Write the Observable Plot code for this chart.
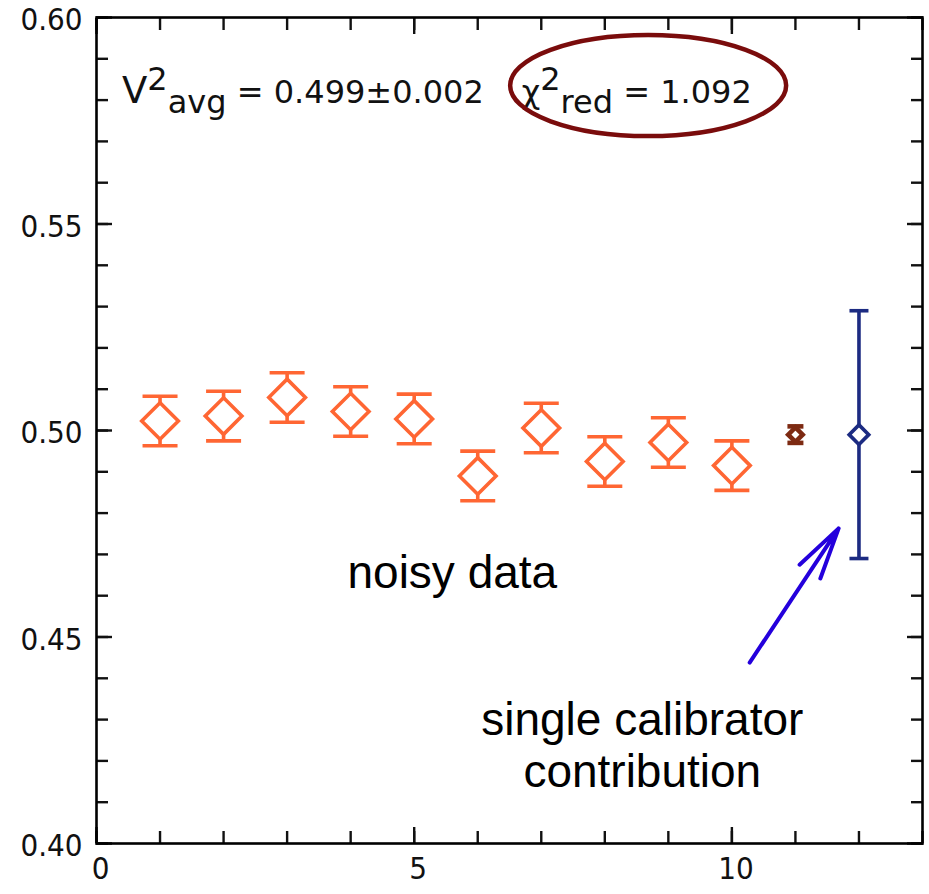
<!DOCTYPE html>
<html><head><meta charset="utf-8">
<script src="https://cdn.jsdelivr.net/npm/d3@7"></script>
<script src="https://cdn.jsdelivr.net/npm/@observablehq/plot@0.6"></script>
<style>
html,body{margin:0;padding:0;background:#fff;}
#chart svg{display:block;}
</style>
</head><body><div id="chart"></div>
<script>
// ---- data ----
const noisyX = [1, 2, 3, 4, 5, 6, 7, 8, 9, 10];
const noisyV2 = [0.5023, 0.5035, 0.5080, 0.5046, 0.5028, 0.4890, 0.5006, 0.4925, 0.4971, 0.4915];
const noisyErr = [0.006, 0.006, 0.006, 0.006, 0.006, 0.006, 0.006, 0.006, 0.006, 0.006];
const avgX = [11];
const avgV2 = [0.499];
const avgErr = [0.002];
const calX = [12];
const calV2 = [0.499];
const calErr = [0.030];

const xMajorTicks = [0, 5, 10];
const xMinorTicks = [0, 1, 2, 3, 4, 5, 6, 7, 8, 9, 10, 11, 12, 13];
const yMajorTicks = [0.40, 0.45, 0.50, 0.55, 0.60];
const yMinorTicks = [0.40, 0.41, 0.42, 0.43, 0.44, 0.45, 0.46, 0.47, 0.48, 0.49, 0.50,
                     0.51, 0.52, 0.53, 0.54, 0.55, 0.56, 0.57, 0.58, 0.59, 0.60];

// annotations (data coordinates)
const noteLabels = ["noisy data", "single calibrator\ncontribution"];
const noteX = [5.60, 8.59];
const noteY = [0.4618, 0.4138];
const arrowFrom = [10.28, 0.4438];
const arrowTo = [11.68, 0.4763];
const statsAnchorX = [0.41, 6.70];
const statsAnchorY = [0.5792, 0.5792];
const ellipseCenter = [8.69, 0.5834];

// ---- build tables ----
const mk = (xs, vs, es) => xs.map((x, i) => ({x, v: vs[i], e: es[i]}));
const noisy = mk(noisyX, noisyV2, noisyErr);
const avg = mk(avgX, avgV2, avgErr);
const cal = mk(calX, calV2, calErr);
const notes = noteLabels.map((t, i) => ({t, x: noteX[i], y: noteY[i]}));

const ORANGE = "#ff6633", BROWN = "#7d2a12", NAVY = "#1c2b82", ARROW = "#2400dc", ELLIPSE = "#7a0c0c";

const capSymbol = {draw(ctx, size) { const w = Math.sqrt(size / Math.PI); ctx.moveTo(-w, 0); ctx.lineTo(w, 0); }};

function errorMarks(data, color, rDiamond, rCap, sw) {
  return [
    Plot.ruleX(data, {x: "x", y1: d => d.v - d.e, y2: d => d.v + d.e, stroke: color, strokeWidth: sw}),
    Plot.dot(data, {x: "x", y: d => d.v + d.e, symbol: capSymbol, r: rCap, stroke: color, strokeWidth: sw}),
    Plot.dot(data, {x: "x", y: d => d.v - d.e, symbol: capSymbol, r: rCap, stroke: color, strokeWidth: sw}),
    Plot.dot(data, {x: "x", y: "v", symbol: "diamond2", r: rDiamond, stroke: color, fill: "white", strokeWidth: sw})
  ];
}

const blank = () => "";
const tickFont = "'DejaVu Sans Condensed', 'DejaVu Sans', sans-serif";

const chart = Plot.plot({
  width: 929,
  height: 894,
  marginLeft: 96,
  marginRight: 7,
  marginTop: 17,
  marginBottom: 51,
  style: {background: "white", fontFamily: tickFont, fontSize: "31px", color: "#111", overflow: "visible"},
  x: {domain: [0, 13]},
  y: {domain: [0.40, 0.60]},
  marks: [
    // inward ticks, all four sides
    Plot.axisX(xMinorTicks, {anchor: "bottom", tickSize: 12, dy: -12, tickFormat: blank, label: null, strokeWidth: 2.4}),
    Plot.axisX(xMajorTicks, {anchor: "bottom", tickSize: 16, dy: -16, tickFormat: blank, label: null, strokeWidth: 2.4}),
    Plot.axisX(xMinorTicks, {anchor: "top", tickSize: 12, dy: 12, tickFormat: blank, label: null, strokeWidth: 2.4}),
    Plot.axisX(xMajorTicks, {anchor: "top", tickSize: 16, dy: 16, tickFormat: blank, label: null, strokeWidth: 2.4}),
    Plot.axisY(yMinorTicks, {anchor: "left", tickSize: 12, dx: 12, tickFormat: blank, label: null, strokeWidth: 2.4}),
    Plot.axisY(yMajorTicks, {anchor: "left", tickSize: 16, dx: 16, tickFormat: blank, label: null, strokeWidth: 2.4}),
    Plot.axisY(yMinorTicks, {anchor: "right", tickSize: 12, dx: -12, tickFormat: blank, label: null, strokeWidth: 2.4}),
    Plot.axisY(yMajorTicks, {anchor: "right", tickSize: 16, dx: -16, tickFormat: blank, label: null, strokeWidth: 2.4}),
    // tick labels
    Plot.axisX(xMajorTicks, {anchor: "bottom", tickSize: 0, tickPadding: 13, dx: 4, label: null, fontSize: 31, fontFamily: tickFont, fill: "#111"}),
    Plot.axisY(yMajorTicks, {anchor: "left", tickSize: 0, tickPadding: 14, dy: 3, tickFormat: d3.format(".2f"), label: null, fontSize: 31, fontFamily: tickFont, fill: "#111"}),
    Plot.frame({stroke: "black", strokeWidth: 2.6}),
    // data
    ...errorMarks(noisy, ORANGE, 16.5, 17.5, 3.6),
    ...errorMarks(avg, BROWN, 6.5, 8, 4.6),
    ...errorMarks(cal, NAVY, 8.8, 9.5, 3.6),
    // annotations
    Plot.text(notes, {x: "x", y: "y", text: "t", textAnchor: "middle", lineAnchor: "bottom", lineHeight: 1.13,
      fontSize: 46, fontFamily: "'Liberation Sans', Arial, sans-serif", fill: "black"}),
    Plot.arrow([{x1: arrowFrom[0], y1: arrowFrom[1], x2: arrowTo[0], y2: arrowTo[1]}],
      {x1: "x1", y1: "y1", x2: "x2", y2: "y2", stroke: ARROW, strokeWidth: 4, headAngle: 27, headLength: 20, strokeLinecap: "round"})
  ]
});

document.getElementById("chart").appendChild(chart);

// ---- rich-text annotations (super/subscripts) and ellipse, placed through Plot's scales ----
const sx = chart.scale("x"), sy = chart.scale("y");
const svg = d3.select(chart);
const statFont = "'DejaVu Sans', sans-serif";

function richText(ax, ay, parts) {
  const t = svg.append("text")
    .attr("x", sx.apply(ax)).attr("y", sy.apply(ay))
    .attr("text-anchor", "start")
    .attr("font-family", statFont).attr("font-size", 32).attr("fill", "#111");
  for (const p of parts) {
    const s = t.append("tspan").text(p.text);
    if (p.dy) s.attr("dy", p.dy);
    if (p.size) s.attr("font-size", p.size);
  }
}
richText(statsAnchorX[0], statsAnchorY[0], [
  {text: "V", size: 37},
  {text: "2", dy: -13},
  {text: "avg", dy: 23},
  {text: " = 0.499\u00b10.002", dy: -10}
]);
richText(statsAnchorX[1], statsAnchorY[1], [
  {text: "\u03c7"},
  {text: "2", dy: -13},
  {text: "red", dy: 23},
  {text: " = 1.092", dy: -10}
]);
svg.append("ellipse")
  .attr("cx", sx.apply(ellipseCenter[0])).attr("cy", sy.apply(ellipseCenter[1]))
  .attr("rx", 138).attr("ry", 50.5)
  .attr("fill", "none").attr("stroke", ELLIPSE).attr("stroke-width", 4.5);
</script>
</body></html>
